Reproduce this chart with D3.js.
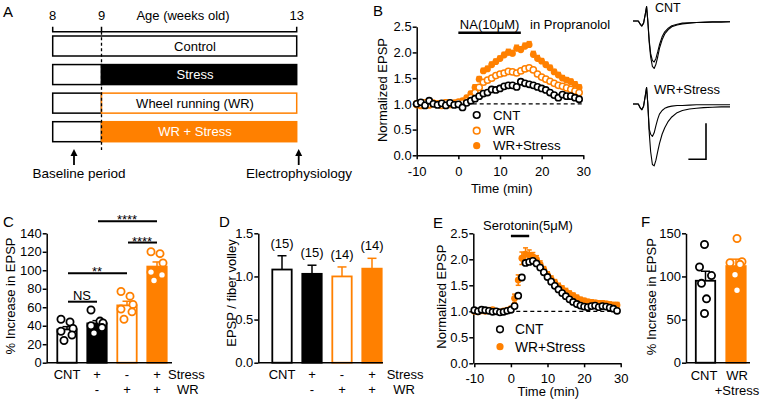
<!DOCTYPE html>
<html><head><meta charset="utf-8">
<script src="https://cdn.jsdelivr.net/npm/d3@7"></script>
<style>body{margin:0;background:#fff}svg{display:block}</style>
</head><body><svg id="c" width="761" height="402"></svg>
<script>
// ================= DATA =================
// Panel A
const ageTicks = [8, 9, 13];
const groupsA = ["Control", "Stress", "Wheel running (WR)", "WR + Stress"];
// Panel B (NA in propranolol)
const timeB = [-10,-9,-8,-7,-6,-5,-4,-3,-2,-1,0,1,2,3,4,5,6,7,8,9,10,11,12,13,14,15,16,17,18,19,20,21,22,23,24,25,26,27,28,29];
const cntB = [1.00,1.03,0.97,1.06,1.00,0.98,1.01,0.97,1.02,0.98,0.99,0.93,1.02,1.06,1.10,1.15,1.20,1.22,1.28,1.27,1.30,1.34,1.36,1.36,1.33,1.43,1.40,1.38,1.36,1.33,1.30,1.27,1.22,1.17,1.12,1.18,1.15,1.15,1.12,1.09];
const wrB  = [1.00,0.98,1.02,0.99,1.01,1.00,0.97,1.02,0.99,1.01,1.03,1.02,1.06,1.12,1.22,1.32,1.42,1.46,1.50,1.55,1.58,1.60,1.63,1.62,1.60,1.64,1.68,1.70,1.66,1.58,1.52,1.48,1.44,1.40,1.36,1.34,1.31,1.28,1.25,1.22];
const wrsB = [0.98,0.96,1.00,0.97,1.02,0.99,1.01,1.03,0.98,1.02,1.04,1.06,1.12,1.20,1.32,1.48,1.64,1.68,1.76,1.82,1.88,1.95,2.00,1.98,2.08,2.05,2.12,2.15,1.96,1.88,1.83,1.76,1.70,1.62,1.56,1.50,1.46,1.43,1.38,1.32];
const wrsSemB = [0.03,0.03,0.03,0.03,0.03,0.03,0.03,0.03,0.03,0.03,0.03,0.03,0.04,0.04,0.05,0.05,0.05,0.05,0.05,0.05,0.05,0.05,0.06,0.06,0.06,0.06,0.06,0.06,0.06,0.06,0.05,0.05,0.05,0.05,0.05,0.05,0.05,0.05,0.05,0.05];
// Example traces (ms, mV)
const traceT = [0,3,4,5,6,7,7.7,8.4,9.2,10,11,12,13,14,15,16.5,18,20,22,25,28,32,36,40,45,50,55];
const traceCntPost = [0,0,-0.04,-0.07,-0.03,0.1,0.2,0.0,-0.3,-0.5,-0.63,-0.66,-0.6,-0.5,-0.38,-0.26,-0.18,-0.12,-0.08,-0.055,-0.04,-0.03,-0.02,-0.02,-0.015,-0.015,-0.01];
const traceCntPre  = [0,0,-0.04,-0.07,-0.03,0.1,0.2,0.0,-0.27,-0.45,-0.55,-0.57,-0.52,-0.43,-0.33,-0.22,-0.15,-0.1,-0.065,-0.045,-0.03,-0.025,-0.02,-0.015,-0.01,-0.01,-0.01];
const traceWrsPost = [0,0,-0.05,-0.08,-0.03,0.12,0.23,0.0,-0.4,-0.66,-0.84,-0.86,-0.78,-0.66,-0.55,-0.42,-0.33,-0.24,-0.18,-0.12,-0.09,-0.07,-0.06,-0.05,-0.045,-0.04,-0.04];
const traceWrsPre  = [0,0,-0.05,-0.08,-0.03,0.12,0.23,0.0,-0.35,-0.42,-0.45,-0.4,-0.3,-0.21,-0.14,-0.09,-0.06,-0.04,-0.03,-0.02,-0.02,-0.015,-0.01,-0.01,-0.01,-0.01,-0.01];
const scaleBarMs = 10, scaleBarMv = 0.5;
// Panel C
const condC = ["CNT","Stress","WR","WR+Stress"];
const stressRow = ["CNT","+","-","+"];
const wrRow = ["","-","+","+"];
const meanC = [36, 42.5, 62, 104];
const semC = [3, 3, 4.5, 5];
const dotsC = [[47,44,37,34,30,24],[57,45,43,40,38,32],[77,72,63,58,55,47],[120,118,108,98,95,89]];
const sigC = [[0,1,66,"NS"],[0,2,96.7,"**"],[2,3,130,"****"],[1,3,153,"****"]];
// Panel D
const meanD = [1.08, 1.03, 1.00, 1.09];
const semD = [0.16, 0.10, 0.11, 0.12];
const nD = [15, 15, 14, 14];
// Panel E (serotonin)
const timeE = [-10,-9,-8,-7,-6,-5,-4,-3,-2,-1,0,1,2,3,4,5,6,7,8,9,10,11,12,13,14,15,16,17,18,19,20,21,22,23,24,25,26,27,28,29];
const cntE = [1.02,1.00,1.03,1.02,1.01,0.99,1.00,0.98,0.99,1.01,1.03,1.10,1.30,1.65,1.93,1.95,1.97,1.92,1.84,1.75,1.66,1.57,1.49,1.42,1.35,1.29,1.23,1.18,1.14,1.11,1.09,1.08,1.10,1.11,1.08,1.10,1.09,1.07,1.05,1.01];
const cntSemE = [0.02,0.02,0.02,0.02,0.02,0.02,0.02,0.02,0.02,0.02,0.02,0.03,0.05,0.06,0.05,0.05,0.05,0.05,0.04,0.04,0.04,0.04,0.03,0.03,0.03,0.03,0.03,0.03,0.03,0.03,0.03,0.03,0.03,0.03,0.03,0.03,0.03,0.03,0.03,0.03];
const wrsE = [1.00,0.99,1.01,1.00,1.02,1.03,1.00,0.99,1.01,1.02,1.05,1.25,1.60,2.02,2.10,2.08,2.05,2.00,1.90,1.80,1.70,1.62,1.55,1.48,1.43,1.38,1.34,1.30,1.26,1.22,1.20,1.18,1.17,1.16,1.15,1.15,1.14,1.13,1.12,1.12];
const wrsSemE = [0.02,0.02,0.02,0.02,0.02,0.02,0.02,0.02,0.02,0.02,0.03,0.08,0.1,0.12,0.12,0.1,0.08,0.07,0.07,0.06,0.06,0.06,0.06,0.06,0.06,0.06,0.05,0.05,0.05,0.05,0.05,0.05,0.05,0.05,0.05,0.05,0.05,0.05,0.05,0.05];
// Panel F
const condF = ["CNT","WR+Stress"];
const meanF = [95, 112];
const semF = [11, 8];
const dotsF = [[137,111,101,92,74,57],[144,117,116,114,102,84]];

// ================= DRAWING =================
const FONT = '"Liberation Sans", Arial, Helvetica, sans-serif';
const ORANGE = "#ff8000";
const svg = d3.select("#c");
function T(x, y, s, o = {}) {
  const t = svg.append("text").attr("x", x).attr("y", y).text(s)
    .attr("font-size", o.fs || 13).attr("font-family", FONT)
    .attr("fill", o.fill || "#000").attr("text-anchor", o.anchor || "start");
  if (o.rot) t.attr("transform", `rotate(-90,${x},${y})`);
  return t;
}
function styleAxis(g, fs = 13) {
  g.attr("font-family", FONT).attr("font-size", fs);
  g.selectAll(".domain,.tick line").attr("stroke", "#000").attr("stroke-width", 1.5);
  g.selectAll(".tick text").attr("fill", "#000");
}
function line(x1, y1, x2, y2, c = "#000", w = 1.5, dash = null) {
  const l = svg.append("line").attr("x1", x1).attr("y1", y1).attr("x2", x2).attr("y2", y2)
    .attr("stroke", c).attr("stroke-width", w);
  if (dash) l.attr("stroke-dasharray", dash);
  return l;
}
// panel letters
T(3, 17, "A", {fs: 15}); T(373, 16, "B", {fs: 15});
T(3, 227, "C", {fs: 15}); T(219, 227, "D", {fs: 15});
T(433, 228, "E", {fs: 15}); T(641, 227, "F", {fs: 15});

// ---------- Panel A ----------
const xA = d3.scaleLinear([8, 13], [52.7, 296.7]);
const yA = d3.scalePoint(groupsA, [36, 121.7]);
const hA = 20;
const rightFill = ["#fff", "#000", "#fff", ORANGE];
const rightStroke = ["#000", "#000", ORANGE, ORANGE];
const labelFill = ["#000", "#fff", "#000", "#fff"];
ageTicks.forEach(d => T(xA(d), 20, d, {anchor: "middle"}));
T(183, 20, "Age (weeks old)", {anchor: "middle"});
svg.append("path").attr("d", `M${xA(8)},26.7V31.7H${xA(13)}V26.7M${xA(9)},26.7V31.7`)
  .attr("fill", "none").attr("stroke", "#000").attr("stroke-width", 1.5);
groupsA.forEach((g, i) => {
  const y = yA(g);
  if (i === 0) {
    svg.append("rect").attr("x", xA(8)).attr("y", y).attr("width", xA(13) - xA(8)).attr("height", hA)
      .attr("fill", "#fff").attr("stroke", "#000").attr("stroke-width", 1.5);
  } else {
    svg.append("rect").attr("x", xA(8)).attr("y", y).attr("width", xA(9) - xA(8)).attr("height", hA)
      .attr("fill", "#fff").attr("stroke", "#000").attr("stroke-width", 1.5);
    svg.append("rect").attr("x", xA(9)).attr("y", y).attr("width", xA(13) - xA(9)).attr("height", hA)
      .attr("fill", rightFill[i]).attr("stroke", rightStroke[i]).attr("stroke-width", 1.5);
  }
  T(195, y + hA / 2 + 4.6, g, {anchor: "middle", fill: labelFill[i]});
});
line(xA(9), 31.7, xA(9), 150, "#000", 1.3, "3,2.5");
function upArrow(x, y1, y2) {
  line(x, y2, x, y1 + 5, "#000", 1.8);
  svg.append("path").attr("d", `M${x},${y1}L${x - 3.5},${y1 + 7}L${x + 3.5},${y1 + 7}Z`).attr("fill", "#000");
}
upArrow(74, 149, 165); upArrow(xA(13) + 2, 149, 165);
T(79, 178, "Baseline period", {anchor: "middle", fs: 13.5});
T(299, 178, "Electrophysiology", {anchor: "middle", fs: 13.5});

// ---------- Panel B ----------
const xB = d3.scaleLinear([-10, 30], [416.7, 583.3]);
const yB = d3.scaleLinear([0, 2.5], [155.3, 26.7]);
styleAxis(svg.append("g").attr("transform", "translate(416.7,0)")
  .call(d3.axisLeft(yB).tickValues([0, 0.5, 1, 1.5, 2, 2.5]).tickFormat(d3.format(".1f")).tickSize(4).tickPadding(1).tickSizeOuter(0)));
styleAxis(svg.append("g").attr("transform", "translate(0,155.3)")
  .call(d3.axisBottom(xB).tickValues([-10, 0, 10, 20, 30]).tickFormat(d => String(d)).tickSize(4).tickPadding(7).tickSizeOuter(0)));
T(386.5, 90, "Normalized EPSP", {anchor: "middle", rot: true});
T(501.7, 193, "Time (min)", {anchor: "middle"});
line(xB(-10), yB(1), xB(30), yB(1), "#000", 1.3, "4,3");
line(xB(0), 32.7, xB(15), 32.7, "#000", 2.5);
T((xB(0) + xB(15)) / 2, 29, "NA(10\u03bcM)", {anchor: "middle"});
T(530, 29, "in Propranolol");
const gB = svg.append("g");
timeB.forEach((t, i) => {
  const x = xB(t);
  gB.append("line").attr("x1", x).attr("x2", x).attr("y1", yB(wrsB[i] - wrsSemB[i])).attr("y2", yB(wrsB[i] + wrsSemB[i])).attr("stroke", ORANGE).attr("stroke-width", 1.5);
  gB.append("line").attr("x1", x - 2.5).attr("x2", x + 2.5).attr("y1", yB(wrsB[i] + wrsSemB[i])).attr("y2", yB(wrsB[i] + wrsSemB[i])).attr("stroke", ORANGE).attr("stroke-width", 1.5);
});
gB.selectAll(".wrs").data(timeB).join("circle").attr("cx", d => xB(d)).attr("cy", (d, i) => yB(wrsB[i])).attr("r", 3.4).attr("fill", ORANGE);
gB.selectAll(".wr").data(timeB).join("circle").attr("cx", d => xB(d)).attr("cy", (d, i) => yB(wrB[i])).attr("r", 3.1).attr("fill", "#fff").attr("stroke", ORANGE).attr("stroke-width", 1.5);
gB.selectAll(".cnt").data(timeB).join("circle").attr("cx", d => xB(d)).attr("cy", (d, i) => yB(cntB[i])).attr("r", 3.1).attr("fill", "#fff").attr("stroke", "#000").attr("stroke-width", 1.6);
// legend B
svg.append("circle").attr("cx", 476.7).attr("cy", 115).attr("r", 3.3).attr("fill", "#fff").attr("stroke", "#000").attr("stroke-width", 1.6);
svg.append("circle").attr("cx", 476.7).attr("cy", 130.7).attr("r", 3.3).attr("fill", "#fff").attr("stroke", ORANGE).attr("stroke-width", 1.6);
svg.append("circle").attr("cx", 476.7).attr("cy", 145.7).attr("r", 3.6).attr("fill", ORANGE);
T(493, 119.6, "CNT", {fs: 13.3}); T(493, 135.3, "WR", {fs: 13.3}); T(493, 150.3, "WR+Stress", {fs: 13.3});

// traces
const xTr = d3.scaleLinear([0, 55], [633, 730]);
const yTrC = d3.scaleLinear([-1, 0], [21 + 72, 21]);
const yTrW = d3.scaleLinear([-1, 0], [104 + 72, 104]);
function trace(arr, ys) {
  svg.append("path").attr("d", d3.line().x((d, i) => xTr(traceT[i])).y(d => ys(d)).curve(d3.curveLinear)(arr))
    .attr("fill", "none").attr("stroke", "#000").attr("stroke-width", 1.1).attr("stroke-linejoin", "round");
}
trace(traceCntPre, yTrC); trace(traceCntPost, yTrC);
trace(traceWrsPre, yTrW); trace(traceWrsPost, yTrW);
T(655, 12, "CNT", {fs: 12.5});
T(654, 94, "WR+Stress", {fs: 13});
const sbX = 706, sbY = 159.3;
const msPx = xTr(scaleBarMs) - xTr(0), mvPx = yTrC(-scaleBarMv) - yTrC(0);
svg.append("path").attr("d", `M${sbX - msPx},${sbY}H${sbX}V${sbY - mvPx}`).attr("fill", "none").attr("stroke", "#000").attr("stroke-width", 1.6);

// ---------- bar panels helper ----------
const barFill = ["#fff", "#000", "#fff", ORANGE];
const barStroke = ["#000", "#000", ORANGE, ORANGE];
const dotStroke = ["#000", "#000", ORANGE, ORANGE];
const jitter = [-6, 3, 6, -6, 5, -3];
const bw = 19.4;

// ---------- Panel C ----------
const xC = d3.scalePoint(condC, [67, 157]);
const yC = d3.scaleLinear([0, 140], [362.7, 233.3]);
styleAxis(svg.append("g").attr("transform", "translate(46.7,0)")
  .call(d3.axisLeft(yC).tickValues(d3.range(0, 141, 20)).tickSize(4).tickPadding(1).tickSizeOuter(0)));
condC.forEach((c, i) => {
  const cx = xC(c);
  line(cx, yC(meanC[i]), cx, yC(meanC[i] + semC[i]), barStroke[i], 1.5);
  line(cx - 4.5, yC(meanC[i] + semC[i]), cx + 4.5, yC(meanC[i] + semC[i]), barStroke[i], 1.5);
  svg.append("rect").attr("x", cx - bw / 2).attr("y", yC(meanC[i])).attr("width", bw).attr("height", yC(0) - yC(meanC[i]))
    .attr("fill", barFill[i]).attr("stroke", barStroke[i]).attr("stroke-width", 1.8);
  dotsC[i].forEach((v, k) => svg.append("circle").attr("cx", cx + jitter[k]).attr("cy", yC(v)).attr("r", 3.6)
    .attr("fill", "#fff").attr("stroke", dotStroke[i]).attr("stroke-width", 1.8));
});
line(46.7, yC(0), 172, yC(0), "#000", 1.5);
sigC.forEach(([a, b, h, s]) => {
  line(xC(condC[a]) + 1, yC(h), xC(condC[b]), yC(h), "#000", 2);
  const mx = (xC(condC[a]) + xC(condC[b])) / 2;
  T(mx, s === "NS" ? yC(h) - 2 : yC(h) + 3, s, {anchor: "middle"});
});
T(15, 296, "% Increase in EPSP", {anchor: "middle", rot: true});
condC.forEach((c, i) => {
  T(xC(c), 379, stressRow[i], {anchor: "middle"});
  if (wrRow[i]) T(xC(c), 394, wrRow[i], {anchor: "middle"});
});
T(168, 379, "Stress"); T(177, 394, "WR");

// ---------- Panel D ----------
const xD = d3.scalePoint(condC, [282, 372]);
const yD = d3.scaleLinear([0, 1.5], [362.7, 233.3]);
styleAxis(svg.append("g").attr("transform", "translate(258.3,0)")
  .call(d3.axisLeft(yD).tickValues([0, 0.5, 1, 1.5]).tickFormat(d3.format(".1f")).tickSize(4).tickPadding(1).tickSizeOuter(0)));
condC.forEach((c, i) => {
  const cx = xD(c);
  line(cx, yD(meanD[i]), cx, yD(meanD[i] + semD[i]), barStroke[i], 1.5);
  line(cx - 4.5, yD(meanD[i] + semD[i]), cx + 4.5, yD(meanD[i] + semD[i]), barStroke[i], 1.5);
  svg.append("rect").attr("x", cx - bw / 2).attr("y", yD(meanD[i])).attr("width", bw).attr("height", yD(0) - yD(meanD[i]))
    .attr("fill", barFill[i]).attr("stroke", barStroke[i]).attr("stroke-width", 1.8);
  T(cx, yD(meanD[i] + semD[i]) - 8, `(${nD[i]})`, {anchor: "middle"});
  T(cx, 379, i === 0 ? "CNT" : stressRow[i], {anchor: "middle"});
  if (wrRow[i]) T(cx, 394, wrRow[i], {anchor: "middle"});
});
line(258.3, yD(0), 383, yD(0), "#000", 1.5);
T(236, 293, "EPSP / fiber volley", {anchor: "middle", rot: true});
T(386.7, 379, "Stress"); T(393.3, 394, "WR");

// ---------- Panel E ----------
const xE = d3.scaleLinear([-10, 30], [474.3, 620.7]);
const yE = d3.scaleLinear([0, 2.5], [363.3, 233.3]);
styleAxis(svg.append("g").attr("transform", "translate(473.3,0)")
  .call(d3.axisLeft(yE).tickValues([0, 0.5, 1, 1.5, 2, 2.5]).tickFormat(d3.format(".1f")).tickSize(4).tickPadding(1).tickSizeOuter(0)));
styleAxis(svg.append("g").attr("transform", "translate(0,363.3)")
  .call(d3.axisBottom(xE).tickValues([-10, 0, 10, 20, 30]).tickFormat(d => String(d)).tickSize(4).tickPadding(6).tickSizeOuter(0)));
line(xE(-10), yE(1), xE(30), yE(1), "#000", 1.3, "4,3");
line(xE(0), 236, xE(5), 236, "#000", 2.5);
T(528, 230, "Serotonin(5\u03bcM)", {anchor: "middle"});
T(446, 296.7, "Normalized EPSP", {anchor: "middle", rot: true});
T(548.3, 396, "Time (min)", {anchor: "middle"});
timeE.forEach((t, i) => {
  const x = xE(t);
  line(x, yE(wrsE[i] - wrsSemE[i]), x, yE(wrsE[i] + wrsSemE[i]), ORANGE, 1.5);
  line(x - 2.5, yE(wrsE[i] + wrsSemE[i]), x + 2.5, yE(wrsE[i] + wrsSemE[i]), ORANGE, 1.5);
  line(x - 2.5, yE(wrsE[i] - wrsSemE[i]), x + 2.5, yE(wrsE[i] - wrsSemE[i]), ORANGE, 1.5);
});
svg.append("g").selectAll("circle").data(timeE).join("circle").attr("cx", d => xE(d)).attr("cy", (d, i) => yE(wrsE[i])).attr("r", 3.4).attr("fill", ORANGE);
timeE.forEach((t, i) => {
  const x = xE(t);
  line(x, yE(cntE[i] - cntSemE[i]), x, yE(cntE[i] + cntSemE[i]), "#000", 1.3);
});
svg.append("g").selectAll("circle").data(timeE).join("circle").attr("cx", d => xE(d)).attr("cy", (d, i) => yE(cntE[i])).attr("r", 3.1).attr("fill", "#fff").attr("stroke", "#000").attr("stroke-width", 1.6);
svg.append("circle").attr("cx", 500).attr("cy", 329.3).attr("r", 3.3).attr("fill", "#fff").attr("stroke", "#000").attr("stroke-width", 1.6);
svg.append("circle").attr("cx", 500).attr("cy", 346.7).attr("r", 3.6).attr("fill", ORANGE);
T(515, 334.2, "CNT", {fs: 13.8}); T(515, 351.6, "WR+Stress", {fs: 13.8});

// ---------- Panel F ----------
const xF = d3.scalePoint(condF, [705.5, 736]);
const yF = d3.scaleLinear([0, 150], [362.7, 233.3]);
styleAxis(svg.append("g").attr("transform", "translate(686,0)")
  .call(d3.axisLeft(yF).tickValues([0, 50, 100, 150]).tickSize(4).tickPadding(1).tickSizeOuter(0)));
const fFill = ["#fff", ORANGE], fStroke = ["#000", ORANGE];
const jitterF = [-1, -6, 6, -4, 1, -1];
condF.forEach((c, i) => {
  const cx = xF(c);
  line(cx, yF(meanF[i]), cx, yF(meanF[i] + semF[i]), fStroke[i], 1.5);
  line(cx - 4.5, yF(meanF[i] + semF[i]), cx + 4.5, yF(meanF[i] + semF[i]), fStroke[i], 1.5);
  svg.append("rect").attr("x", cx - bw / 2).attr("y", yF(meanF[i])).attr("width", bw).attr("height", yF(0) - yF(meanF[i]))
    .attr("fill", fFill[i]).attr("stroke", fStroke[i]).attr("stroke-width", 1.8);
  dotsF[i].forEach((v, k) => svg.append("circle").attr("cx", cx + jitterF[k] * (i ? -1 : 1)).attr("cy", yF(v)).attr("r", 3.6)
    .attr("fill", "#fff").attr("stroke", fStroke[i]).attr("stroke-width", 1.8));
});
line(686, yF(0), 750, yF(0), "#000", 1.5);
T(656.5, 296.7, "% Increase in EPSP", {anchor: "middle", rot: true});
T(704, 380, "CNT", {anchor: "middle"}); T(737, 380, "WR", {anchor: "middle"}); T(737, 395, "+Stress", {anchor: "middle"});
</script></body></html>
